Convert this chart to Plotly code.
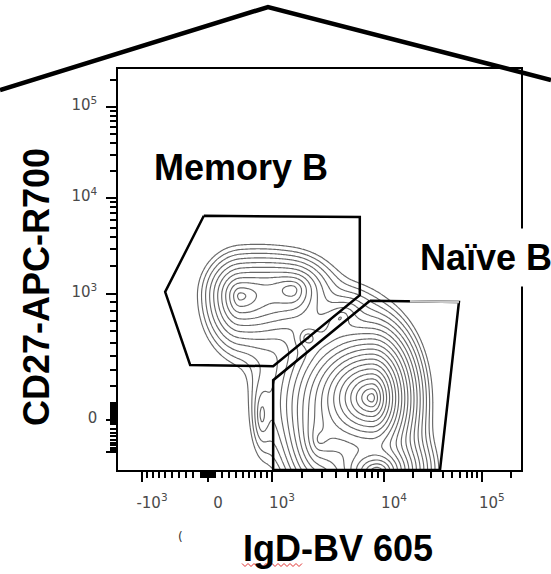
import numpy as np
import plotly.graph_objects as go

# ---------------------------------------------------------------------------
# Axis calibration (biexponential display, 0-1000 display channels)
# ---------------------------------------------------------------------------
X_CAL_VALUES = [-1e4, -1e3, 0, 1e3, 1e4, 1e5, 1e6]
X_CAL_CHANNELS = [-189, 59.5, 223.3, 382.1, 660, 903, 1146]
Y_CAL_VALUES = [-1e4, -1e3, 0, 1e3, 1e4, 1e5, 1e6]
Y_CAL_CHANNELS = [-55, 44.9, 124.7, 439, 678.4, 905.3, 1132]

X_MAJOR = [-1e3, 0, 1e3, 1e4, 1e5]
X_MAJOR_TEXT = ["-10<sup>3</sup>", "0", "10<sup>3</sup>", "10<sup>4</sup>", "10<sup>5</sup>"]
Y_MAJOR = [-1e3, 0, 1e3, 1e4, 1e5]
Y_MAJOR_TEXT = ["", "0", "10<sup>3</sup>", "10<sup>4</sup>", "10<sup>5</sup>"]

MINOR_VALUES = (
    [-m * 100 for m in range(1, 10)] + [-m * 10 for m in range(1, 10)]
    + [m * 10 for m in range(1, 10)] + [m * 100 for m in range(1, 10)]
    + [m * 1000 for m in range(2, 10)] + [m * 10000 for m in range(2, 10)]
    + [m * 100000 for m in range(2, 10)]
)

# ---------------------------------------------------------------------------
# Cell populations on the display scale (channels): centre, spread towards
# each side, tilt (deg) and relative peak density
# ---------------------------------------------------------------------------
POP_NAMES = ["naive_main", "naive_bottom", "naive_left", "tail",
             "memory_main", "memory_right", "memory_island", "bridge"]
POP_CX = [630, 643, 500, 357, 303, 432, 471, 551]
POP_CY = [180, -5, 75, 137, 434, 449, 329, 379]
POP_LEFT = [45, 35, 30, 17, 32, 50, 15, 37]
POP_RIGHT = [25, 30, 50, 17, 62, 35, 15, 37]
POP_DOWN = [40, 25, 50, 62, 50, 40, 15, 25]
POP_UP = [41, 25, 50, 62, 38, 30, 15, 25]
POP_TILT = [0, 0, 0, 0, 0, 0, 0, 40]
POP_PEAK = [1.0, 0.35, 0.06, 0.008, 0.06, 0.045, 0.02, 0.015]

# contour levels: natural-log density, evenly spaced
LEVEL_LOW, LEVEL_STEP = -5.95, 0.3

# Gates (display channels)
MEMORY_GATE_X = [213, 600, 600, 385, 179, 117, 213]
MEMORY_GATE_Y = [634, 631, 436, 259, 262, 444, 634]
NAIVE_GATE_X = [625, 846, 799, 385, 385, 625]
NAIVE_GATE_Y = [422, 419, 0, 0, 224, 422]

X_TITLE = "IgD-BV 605"
Y_TITLE = "CD27-APC-R700"
GATE_LABELS = ["Memory B", "Naïve B"]


def to_channel(v, cal_v, cal_ch, cof):
    v = np.asarray(v, dtype=float)
    return np.interp(np.arcsinh(v / cof), np.arcsinh(np.asarray(cal_v, float) / cof), cal_ch)


# Density on the display grid
gx = np.linspace(0, 1000, 251)
gy = np.linspace(0, 1000, 251)
GX, GY = np.meshgrid(gx, gy)
dens = np.full_like(GX, 1e-12)
for cx, cy, sl, sr, sd, su, tilt, h in zip(POP_CX, POP_CY, POP_LEFT, POP_RIGHT,
                                           POP_DOWN, POP_UP, POP_TILT, POP_PEAK):
    t = np.deg2rad(tilt)
    dx, dy = GX - cx, GY - cy
    u = dx * np.cos(t) + dy * np.sin(t)
    w = -dx * np.sin(t) + dy * np.cos(t)
    su_ = np.where(u < 0, sl, sr)
    sw_ = np.where(w < 0, sd, su)
    dens += h * np.exp(-np.sqrt((u / su_) ** 2 + (w / sw_) ** 2))
logd = np.log(dens)

fig = go.Figure()
fig.add_trace(go.Contour(
    x=gx, y=gy, z=logd,
    contours=dict(coloring="none", start=LEVEL_LOW, end=-0.01, size=LEVEL_STEP),
    line=dict(color="#686868", width=1.15, smoothing=1.0),
    showscale=False, hoverinfo="skip",
))

for gxs, gys in [(MEMORY_GATE_X, MEMORY_GATE_Y), (NAIVE_GATE_X, NAIVE_GATE_Y)]:
    fig.add_trace(go.Scatter(x=gxs, y=gys, mode="lines",
                             line=dict(color="black", width=2.5),
                             hoverinfo="skip", showlegend=False))
# faded right part of the naive gate's upper edge
top_x0 = NAIVE_GATE_X[0] + 0.45 * (NAIVE_GATE_X[1] - NAIVE_GATE_X[0])
top_y0 = NAIVE_GATE_Y[0] + 0.45 * (NAIVE_GATE_Y[1] - NAIVE_GATE_Y[0])
fig.add_trace(go.Scatter(x=[top_x0, NAIVE_GATE_X[1]], y=[top_y0, NAIVE_GATE_Y[1]],
                         mode="lines", line=dict(color="#c8c8c8", width=2.5),
                         hoverinfo="skip", showlegend=False))

xt_major = to_channel(X_MAJOR, X_CAL_VALUES, X_CAL_CHANNELS, 1000)
yt_major = to_channel(Y_MAJOR, Y_CAL_VALUES, Y_CAL_CHANNELS, 500)
xt_minor = to_channel(MINOR_VALUES, X_CAL_VALUES, X_CAL_CHANNELS, 1000)
yt_minor = to_channel(MINOR_VALUES, Y_CAL_VALUES, Y_CAL_CHANNELS, 500)
xt_minor = [v for v in xt_minor if 0 < v < 1000]
yt_minor = [v for v in yt_minor if 0 < v < 1000]

tick_font = dict(family="DejaVu Sans", size=15, color="#4a4a4a")
axis_common = dict(range=[0, 1000], showgrid=False, zeroline=False,
                   showline=True, linecolor="black", linewidth=1.5, mirror=True,
                   ticks="outside", ticklen=10, tickwidth=2, tickcolor="black",
                   tickmode="array", tickfont=tick_font)

fig.update_xaxes(**axis_common, tickvals=list(xt_major), ticktext=X_MAJOR_TEXT,
                 ticklabelshift=10, ticklabelstandoff=8,
                 minor=dict(tickmode="array", tickvals=xt_minor, ticks="outside",
                            ticklen=6, tickwidth=1.5, tickcolor="black", showgrid=False))
fig.update_yaxes(**axis_common, tickvals=list(yt_major), ticktext=Y_MAJOR_TEXT,
                 ticklabelstandoff=6, ticklabelshift=-2,
                 minor=dict(tickmode="array", tickvals=yt_minor, ticks="outside",
                            ticklen=6, tickwidth=1.5, tickcolor="black", showgrid=False))

L, R, T, B = 118, 30, 69, 104
W, H = 551, 574
PW, PH = W - L - R, H - T - B


def px(x):
    return (x - L) / PW


def py(y):
    return (H - B - y) / PH


big = dict(family="Liberation Sans, Arial, sans-serif", size=36, color="black")
annotations = [
    dict(text=f"<b>{X_TITLE}</b>", x=px(338), y=py(548), font=big),
    dict(text=f"<b>{Y_TITLE}</b>", x=px(36), y=py(287), font=big, textangle=-90),
    dict(text=f"<b>{GATE_LABELS[0]}</b>", x=px(152), y=py(167), xanchor="left", font=big),
    dict(text=f"<b>{GATE_LABELS[1]}</b>", x=px(411), y=py(257), xanchor="left",
         font=big, bgcolor="white", borderpad=8),
    dict(text="(", x=px(180), y=py(537), font=dict(family="DejaVu Sans", size=12, color="#333")),
]
for a in annotations:
    a.update(xref="paper", yref="paper", showarrow=False)
    a.setdefault("xanchor", "center")
    a.setdefault("yanchor", "middle")

# roof outline over the panel
roof = f"M {px(0)} {py(90)} L {px(268)} {py(7)} L {px(551)} {py(80)}"
# spell-check squiggle under the axis title
sq_x = np.arange(242, 304, 3)
sq_y = 565 + np.where(np.arange(len(sq_x)) % 2 == 0, -1.5, 1.5)
squiggle = "M " + " L ".join(f"{px(a)} {py(b)}" for a, b in zip(sq_x, sq_y))

fig.update_layout(
    width=W, height=H, margin=dict(l=L, r=R, t=T, b=B),
    paper_bgcolor="white", plot_bgcolor="white", showlegend=False,
    annotations=annotations,
    shapes=[
        dict(type="path", path=roof, xref="paper", yref="paper",
             line=dict(color="black", width=4.5)),
        dict(type="path", path=squiggle, xref="paper", yref="paper",
             line=dict(color="#e03030", width=1)),
    ],
)

fig.write_html("out.html")
